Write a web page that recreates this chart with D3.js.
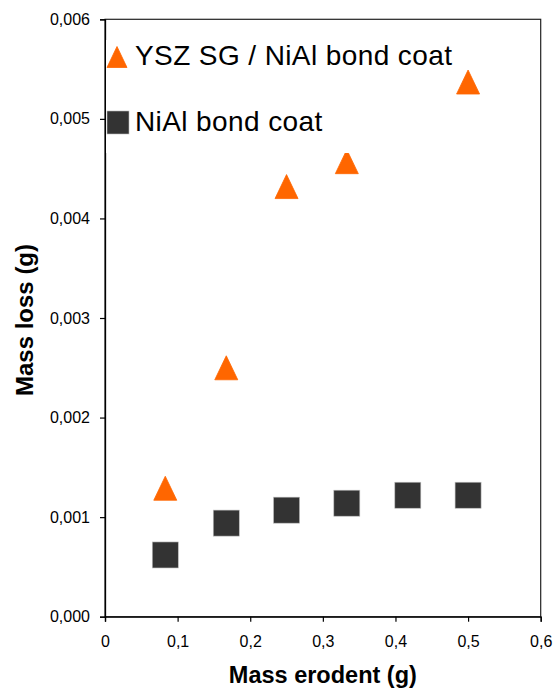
<!DOCTYPE html>
<html lang="en">
  <head>
    <meta charset="UTF-8" />
    <title>Mass loss vs mass erodent</title>
    <script src="https://d3js.org/d3.v7.min.js"></script>
    <style>
      body { margin: 0; background: #fff; }
      text { font-family: 'Liberation Sans', Arial, sans-serif; fill: #000; }
    </style>
  </head>
  <body>
    <svg id="chart" width="557" height="696"></svg>
    <script>
      // Data
      const erodent = [0.083, 0.167, 0.25, 0.333, 0.417, 0.5]
      const yszLoss = [0.00129, 0.0025, 0.00432, 0.00457, 0.00484, 0.00537]
      const niAlLoss = [0.00062, 0.00094, 0.00107, 0.00114, 0.00122, 0.00122]
      const xTicks = [0, 0.1, 0.2, 0.3, 0.4, 0.5, 0.6]
      const yTicks = [0, 0.001, 0.002, 0.003, 0.004, 0.005, 0.006]
      const seriesNames = ['YSZ SG / NiAl bond coat', 'NiAl bond coat']

      const svg = d3.select('#chart')
      const margin = { left: 105, right: 16.3, top: 19.3, bottom: 79.3 }
      const width = +svg.attr('width'), height = +svg.attr('height')

      const x = d3.scaleLinear().domain([0, 0.6]).range([margin.left, width - margin.right])
      const y = d3.scaleLinear().domain([0, 0.006]).range([height - margin.bottom, margin.top])

      const comma = d => d3.format('.1f')(d).replace('.', ',')
      const fmtX = d => (d === 0 ? '0' : comma(d))
      const fmtY = d => d3.format('.3f')(d).replace('.', ',')

      // frame
      svg.append('rect')
        .attr('x', x(0)).attr('y', y(0.006))
        .attr('width', x(0.6) - x(0)).attr('height', y(0) - y(0.006))
        .attr('fill', 'none').attr('stroke', '#222').attr('stroke-width', 1.2)

      // axes
      const xAxis = svg.append('g')
        .attr('transform', `translate(0,${y(0)})`)
        .call(d3.axisBottom(x).tickValues(xTicks).tickFormat(fmtX).tickSizeOuter(0).tickSize(5).tickPadding(14))
      const yAxis = svg.append('g')
        .attr('transform', `translate(${x(0)},0)`)
        .call(d3.axisLeft(y).tickValues(yTicks).tickFormat(fmtY).tickSizeOuter(0).tickSize(5).tickPadding(10))
      ;[xAxis, yAxis].forEach(g => {
        g.select('.domain').attr('stroke', '#000').attr('stroke-width', 1.3)
        g.selectAll('.tick line').attr('stroke', '#000').attr('stroke-width', 1.2)
        g.selectAll('.tick text')
          .style('font-family', "'Liberation Sans', Arial, sans-serif")
          .style('font-size', '16px').attr('fill', '#111')
      })

      // axis titles
      svg.append('text')
        .attr('x', (x(0) + x(0.6)) / 2).attr('y', 683)
        .attr('text-anchor', 'middle')
        .style('font-size', '23.5px').style('font-weight', 'bold')
        .text('Mass erodent (g)')
      svg.append('text')
        .attr('transform', `translate(33,320) rotate(-90)`)
        .attr('text-anchor', 'middle')
        .style('font-size', '24px').style('font-weight', 'bold')
        .text('Mass loss (g)')

      // triangle marker, centred on its bounding box
      const triPath = (w, h) => `M0,${-h / 2}L${w / 2},${h / 2}L${-w / 2},${h / 2}Z`
      const sqSize = 26

      // NiAl squares
      svg.append('g').selectAll('rect')
        .data(erodent.map((d, i) => [d, niAlLoss[i]]))
        .join('rect')
        .attr('x', d => x(d[0]) - sqSize / 2).attr('y', d => y(d[1]) - sqSize / 2)
        .attr('width', sqSize).attr('height', sqSize)
        .attr('fill', '#333').attr('stroke', '#bbb').attr('stroke-width', 0.6)

      // YSZ triangles
      svg.append('g').selectAll('path')
        .data(erodent.map((d, i) => [d, yszLoss[i]]))
        .join('path')
        .attr('d', triPath(23, 24))
        .attr('transform', d => `translate(${x(d[0])},${y(d[1])})`)
        .attr('fill', '#ff6600').attr('stroke', '#ff6600').attr('stroke-width', 0.8)
        .attr('stroke-linejoin', 'round')

      // legend
      const legend = svg.append('g')
      legend.append('rect')
        .attr('x', 106).attr('y', 40).attr('width', 350).attr('height', 113)
        .attr('fill', '#fff')
      legend.append('path')
        .attr('d', triPath(20, 21)).attr('transform', 'translate(117,57)')
        .attr('fill', '#ff6600').attr('stroke', '#ff6600').attr('stroke-width', 0.8)
        .attr('stroke-linejoin', 'round')
      legend.append('rect')
        .attr('x', 107).attr('y', 111).attr('width', 22).attr('height', 23)
        .attr('fill', '#333').attr('stroke', '#bbb').attr('stroke-width', 0.6)
      legend.selectAll('text.lbl')
        .data(seriesNames)
        .join('text')
        .attr('class', 'lbl')
        .attr('x', 135).attr('y', (d, i) => (i === 0 ? 65 : 131))
        .style('font-size', '28px').style('letter-spacing', '0.4px')
        .text(d => d)
    </script>
  </body>
</html>
